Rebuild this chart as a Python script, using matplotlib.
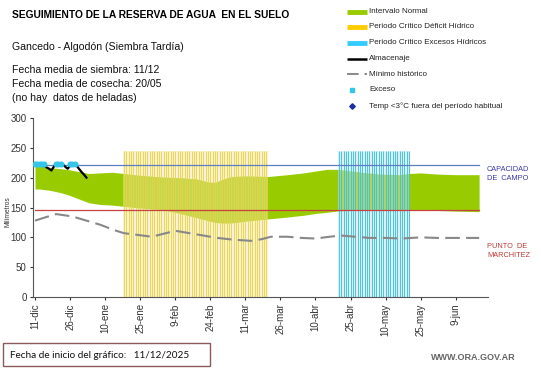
import numpy as np
import matplotlib
matplotlib.use("Agg")
import matplotlib.pyplot as plt
from matplotlib.lines import Line2D
from matplotlib.patches import Rectangle

plt.rcParams['font.family'] = ['Liberation Sans', 'DejaVu Sans']

# ---------------- data (days since 11-dic) ----------------
tick_days = [0, 15, 30, 45, 60, 75, 90, 105, 120, 135, 150, 165, 180]
tick_labels = ['11-dic', '26-dic', '10-ene', '25-ene', '9-feb', '24-feb', '11-mar',
               '26-mar', '10-abr', '25-abr', '10-may', '25-may', '9-jun']

band_days = [0, 2, 6, 11, 15, 19, 23, 28, 33, 38, 45, 55, 62, 69, 74, 77, 80, 84,
             90, 100, 108, 115, 120, 125, 129, 134, 140, 148, 156, 160, 165, 172, 180, 190]
band_upper = [223, 220, 217, 215, 213, 210, 207, 208, 209, 207, 204, 201, 200, 198, 193, 192, 197, 202,
              203, 202, 205, 208, 211, 214, 214, 212, 209, 206, 205, 207, 208, 206, 205, 205]
band_lower = [181, 181, 179, 175, 170, 164, 158, 155, 154, 152, 149, 146, 140, 133, 128, 125, 124, 124,
              127, 131, 134, 137, 140, 142, 144, 145, 145, 145, 145, 145, 145, 145, 144, 143]

min_days = [0, 4, 9, 16, 22, 28, 34, 38, 44, 50, 55, 60, 66, 72, 78, 85, 93, 97, 101,
            108, 114, 120, 126, 131, 137, 143, 150, 157, 165, 172, 180, 190]
min_hist = [128, 133, 139, 135, 128, 121, 112, 107, 104, 101, 106, 111, 107, 103, 99, 96, 94, 97, 101,
            101, 99, 98, 101, 103, 101, 99, 99, 98, 100, 99, 99, 99]

alm_days = list(range(0, 23))
almacenaje = [223, 223, 223, 222, 220, 217, 215, 212, 218, 223, 223, 223, 222, 218, 215, 220,
              223, 223, 219, 214, 209, 205, 200]

exceso_days = [0, 1, 2, 3, 4, 9, 10, 11, 15, 16, 17]
exceso_vals = [223, 223, 223, 223, 223, 223, 223, 223, 223, 223, 223]

capacidad_campo = 222
punto_marchitez = 145
ref_end_day = 190

deficit_start, deficit_end = 38, 99
exceso_start, exceso_end = 130, 160
period_top = 245

# ---------------- figure ----------------
W, H = 541, 368
fig = plt.figure(figsize=(W / 100, H / 100), dpi=100)
ax = fig.add_axes([33 / W, 1 - 297 / H, (488 - 33) / W, (297 - 118) / H])

ax.fill_between(band_days, band_lower, band_upper, color='#99CC00', lw=0, zorder=1)

d_days = np.arange(deficit_start, deficit_end + 1)
ax.bar(d_days, [period_top] * len(d_days), width=1.0, color='#F6EBA6', alpha=0.45,
       lw=0, zorder=2)
ax.vlines(d_days, 0, period_top, color='#E8D24A', lw=0.8, alpha=0.85, zorder=2)
e_days = np.arange(exceso_start, exceso_end + 1)
ax.bar(e_days, [period_top] * len(e_days), width=1.0, color='#BFE9F3', alpha=0.45,
       lw=0, zorder=2)
ax.vlines(e_days, 0, period_top, color='#45BFD8', lw=0.8, alpha=0.9, zorder=2)

ax.plot([0, ref_end_day], [capacidad_campo] * 2, color='#5B7FC0', lw=0.9, zorder=3)
ax.plot([0, ref_end_day], [punto_marchitez] * 2, color='#C84040', lw=0.9, zorder=3)

ax.plot(min_days, min_hist, color='#888888', lw=1.5, dashes=(7, 3), zorder=3)
ax.plot(alm_days, almacenaje, color='black', lw=1.6, zorder=4)
ax.plot(exceso_days, exceso_vals, ls='none', marker='o', ms=3.3, color='#33C6E8',
        mec='#33C6E8', zorder=5)

ax.set_xlim(-0.86, 193.8)
ax.set_ylim(0, 300)
ax.set_yticks([0, 50, 100, 150, 200, 250, 300])
ax.set_xticks(tick_days)
ax.set_xticklabels(tick_labels, rotation=90)
ax.tick_params(axis='both', labelsize=7, colors='#333333', length=2.5, width=0.8, pad=2)
for s in ['top', 'right']:
    ax.spines[s].set_visible(False)
for s in ['left', 'bottom']:
    ax.spines[s].set_color('#555555')
    ax.spines[s].set_linewidth(0.8)

def fx(px):
    return px / W

def fy(py):
    return 1 - py / H

fig.text(fx(8), fy(212), 'Milímetros', rotation=90, fontsize=4.8, color='#333333',
         ha='center', va='center')

# titles
fig.text(fx(12), fy(15), 'SEGUIMIENTO DE LA RESERVA DE AGUA  EN EL SUELO', fontsize=7.4,
         fontweight='bold', ha='left', va='center', color='black')
fig.text(fx(12), fy(47), 'Gancedo - Algodón (Siembra Tardía)', fontsize=7.6,
         ha='left', va='center', color='#111111')
fig.text(fx(12), fy(70), 'Fecha media de siembra: 11/12', fontsize=7.6, ha='left', va='center', color='#111111')
fig.text(fx(12), fy(84), 'Fecha media de cosecha: 20/05', fontsize=7.6, ha='left', va='center', color='#111111')
fig.text(fx(12), fy(98), '(no hay  datos de heladas)', fontsize=7.6, ha='left', va='center', color='#111111')

# legend (manual)
leg_x1, leg_x2, txt_x = 347, 367, 369
rows = [11.5, 27, 43, 59, 74, 89.5, 106]
labels = ['Intervalo Normal', 'Periodo Crítico Déficit Hídrico', 'Periodo Crítico Excesos Hídricos',
          'Almacenaje', 'Mínimo histórico', 'Exceso', 'Temp <3°C fuera del período habitual']
fig.add_artist(Line2D([fx(leg_x1), fx(leg_x2)], [fy(rows[0])] * 2, color='#99CC00', lw=3.5,
                      solid_capstyle='butt'))
fig.add_artist(Line2D([fx(leg_x1), fx(leg_x2)], [fy(rows[1])] * 2, color='#FFCC00', lw=3.5,
                      solid_capstyle='butt'))
fig.add_artist(Line2D([fx(leg_x1), fx(leg_x2)], [fy(rows[2])] * 2, color='#33CCFF', lw=3.5,
                      solid_capstyle='butt'))
fig.add_artist(Line2D([fx(leg_x1), fx(leg_x2)], [fy(rows[3])] * 2, color='black', lw=1.8,
                      solid_capstyle='butt'))
fig.add_artist(Line2D([fx(leg_x1), fx(leg_x2)], [fy(rows[4])] * 2, color='#888888', lw=1.4,
                      dashes=(6, 3)))
fig.add_artist(Line2D([fx(352)], [fy(rows[5])], color='#33C6E8', marker='s', ms=2.2, ls='none'))
fig.add_artist(Line2D([fx(352)], [fy(rows[6])], color='#1F2F9F', marker='D', ms=2.8, ls='none'))
for r, lab in zip(rows, labels):
    fig.text(fx(txt_x), fy(r), lab, fontsize=5.8, ha='left', va='center', color='#222222')

# right annotations
fig.text(fx(487), fy(170), 'CAPACIDAD', fontsize=5.3, color='#3B3BAA', ha='left', va='center')
fig.text(fx(487), fy(179), 'DE  CAMPO', fontsize=5.3, color='#3B3BAA', ha='left', va='center')
fig.text(fx(487), fy(246.5), 'PUNTO  DE', fontsize=5.3, color='#C03838', ha='left', va='center')
fig.text(fx(487), fy(255.5), 'MARCHITEZ', fontsize=5.3, color='#C03838', ha='left', va='center')

# bottom box
fig.add_artist(Rectangle((fx(3), fy(366)), fx(210) - fx(3), fy(343) - fy(366),
                         transform=fig.transFigure, fill=False, edgecolor='#8B5A5A', lw=1.0))
fig.text(fx(10), fy(355), 'Fecha de inicio del gráfico:   11/12/2025', fontsize=7.2,
         family=['Lato', 'DejaVu Sans'], ha='left', va='center', color='#111111')
fig.text(fx(516), fy(358), 'WWW.ORA.GOV.AR', fontsize=6.5, fontweight='bold',
         ha='right', va='center', color='#666666')

fig.savefig('out.png', dpi=100)
